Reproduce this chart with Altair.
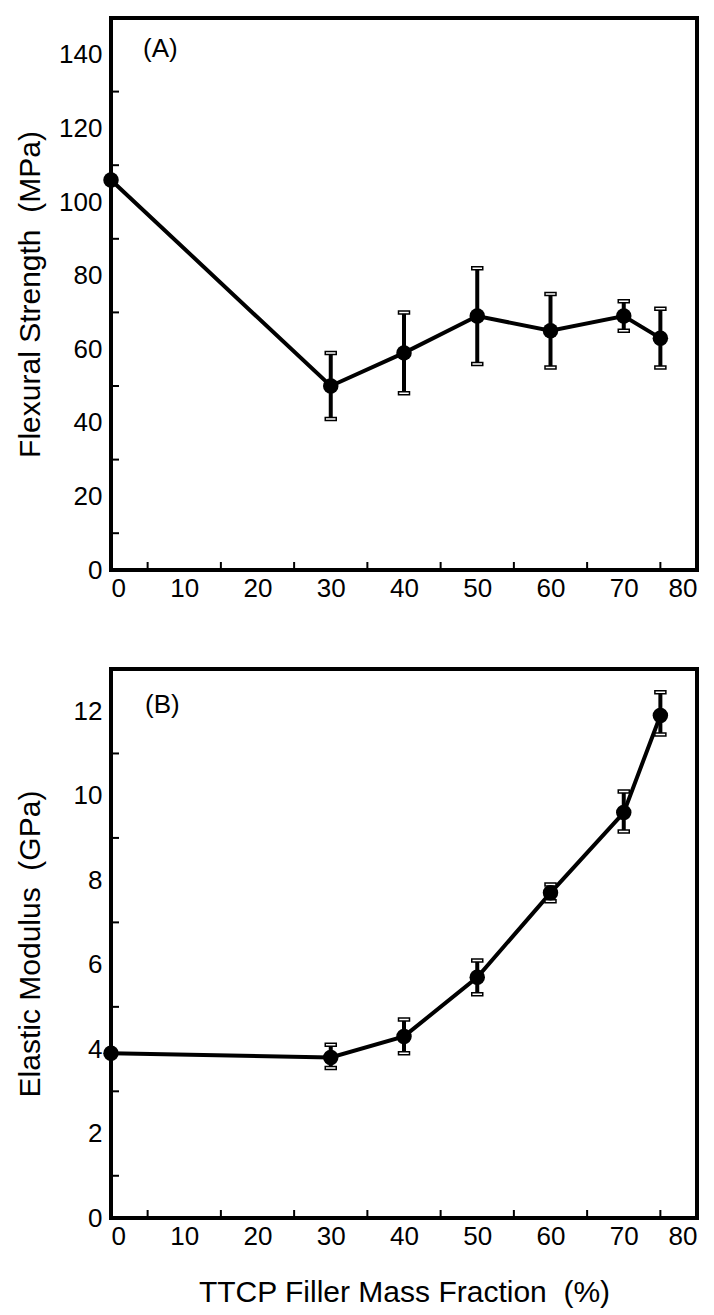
import altair as alt
import pandas as pd

# ---- data ----
x_vals = [0, 30, 40, 50, 60, 70, 75]
flex = [106, 50, 59, 69, 65, 69, 63]
flex_lo = [106, 41, 48, 56, 55, 65, 55]
flex_hi = [106, 59, 70, 82, 75, 73, 71]
mod = [3.9, 3.8, 4.3, 5.7, 7.7, 9.6, 11.9]
mod_lo = [3.9, 3.55, 3.9, 5.3, 7.5, 9.15, 11.45]
mod_hi = [3.9, 4.1, 4.7, 6.1, 7.9, 10.1, 12.45]

x_ticks = [0, 10, 20, 30, 40, 50, 60, 70, 80]
x_minor = [5, 15, 25, 35, 45, 55, 65, 75]
flex_ticks = [0, 20, 40, 60, 80, 100, 120, 140]
flex_minor = [10, 30, 50, 70, 90, 110, 130]
mod_ticks = [0, 2, 4, 6, 8, 10, 12]
mod_minor = [1, 3, 5, 7, 9, 11]

NB = "\u00a0\u00a0"
FONT = "Liberation Sans"
W = 586


def panel(yv, lo, hi, ydom, yticks, yminor, ytitle, xtitle, label, H, lab_x, lab_y):
    df = pd.DataFrame({"x": x_vals, "y": yv, "lo": lo, "hi": hi})
    err = df[df["hi"] > df["lo"]]
    xs = alt.Scale(domain=[0, 80], nice=False)
    ys = alt.Scale(domain=ydom, nice=False)
    xax = alt.Axis(values=x_ticks, title=xtitle, grid=False, ticks=False, domain=False,
                   labelFontSize=26, labelPadding=5, titleFontSize=30, titlePadding=28,
                   labelFont=FONT, titleFont=FONT, labelColor="black", titleColor="black",
                   titleFontWeight="normal")
    yax = alt.Axis(values=yticks, title=ytitle, grid=False, ticks=False, domain=False,
                   labelFontSize=26, labelPadding=9, titleFontSize=30, titleX=-66,
                   labelFont=FONT, titleFont=FONT, labelColor="black", titleColor="black",
                   titleFontWeight="normal")
    X = alt.X("x:Q", scale=xs, axis=xax)
    Y = alt.Y("y:Q", scale=ys, axis=yax)

    line = alt.Chart(df).mark_line(color="black", strokeWidth=4).encode(x=X, y=Y)
    bars = alt.Chart(err).mark_rule(color="black", strokeWidth=4).encode(
        x=alt.X("x:Q", scale=xs), y=alt.Y("lo:Q", scale=ys), y2="hi:Q")
    cap_lo = alt.Chart(err).mark_tick(orient="horizontal", size=11, thickness=3,
                                      fill="white", stroke="black", strokeWidth=1.5,
                                      opacity=1).encode(
        x=alt.X("x:Q", scale=xs), y=alt.Y("lo:Q", scale=ys))
    cap_hi = alt.Chart(err).mark_tick(orient="horizontal", size=11, thickness=3,
                                      fill="white", stroke="black", strokeWidth=1.5,
                                      opacity=1).encode(
        x=alt.X("x:Q", scale=xs), y=alt.Y("hi:Q", scale=ys))
    pts = alt.Chart(df).mark_circle(color="black", size=240, opacity=1).encode(x=X, y=Y)

    xt = alt.Chart(pd.DataFrame({"t": x_minor})).mark_rule(color="black", strokeWidth=2).encode(
        x=alt.X("t:Q", scale=xs), y=alt.value(H), y2=alt.value(H - 8))
    yt = alt.Chart(pd.DataFrame({"t": yminor})).mark_rule(color="black", strokeWidth=2).encode(
        y=alt.Y("t:Q", scale=ys), x=alt.value(0), x2=alt.value(8))
    txt = alt.Chart(pd.DataFrame({"t": [label]})).mark_text(
        align="left", baseline="middle", fontSize=26, font=FONT, color="black").encode(
        text="t:N", x=alt.value(lab_x), y=alt.value(lab_y))

    return alt.layer(xt, yt, line, bars, cap_lo, cap_hi, pts, txt).properties(width=W, height=H)


top = panel(flex, flex_lo, flex_hi, [0, 150], flex_ticks, flex_minor,
            "Flexural Strength" + NB + "(MPa)", "", "(A)", 552, 32, 31)
bottom = panel(mod, mod_lo, mod_hi, [0, 13], mod_ticks, mod_minor,
               "Elastic Modulus" + NB + "(GPa)", "TTCP Filler Mass Fraction" + NB + "(%)",
               "(B)", 549, 34, 36)

chart = alt.vconcat(top, bottom, spacing=99, bounds="flush").properties(
    padding={"left": 5, "top": 8, "right": 0, "bottom": 0}
).configure(background="white").configure_view(stroke="black", strokeWidth=4)

chart.save("out.html", embed_options={"renderer": "svg", "actions": False})
